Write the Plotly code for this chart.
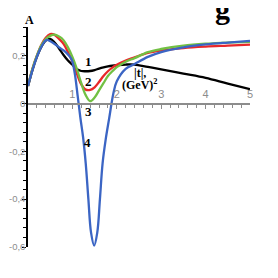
import plotly.graph_objects as go

# ---- data ----
x_common = [0, 0.1, 0.2, 0.3, 0.4, 0.5, 0.6, 0.7, 0.8, 0.9, 1.0, 1.1, 1.2, 1.3, 1.4,
            1.5, 1.6, 1.7, 1.8, 1.9, 2.0, 2.2, 2.4, 2.7, 3.0, 3.5, 4.0, 4.5, 5.0]

y1_black = [0.073, 0.14, 0.195, 0.237, 0.263, 0.27, 0.255, 0.23, 0.203, 0.18, 0.162,
            0.143, 0.136, 0.135, 0.136, 0.14, 0.146, 0.151, 0.155, 0.158, 0.16, 0.163,
            0.163, 0.153, 0.143, 0.125, 0.107, 0.083, 0.06]

y2_red = [0.073, 0.145, 0.2, 0.245, 0.275, 0.29, 0.287, 0.27, 0.25, 0.215, 0.175,
          0.125, 0.08, 0.058, 0.057, 0.068, 0.09, 0.115, 0.135, 0.15, 0.162, 0.18,
          0.193, 0.212, 0.222, 0.232, 0.238, 0.242, 0.246]

y3_green = [0.073, 0.145, 0.2, 0.243, 0.27, 0.283, 0.288, 0.28, 0.265, 0.235, 0.195,
            0.145, 0.085, 0.035, 0.01, 0.025, 0.055, 0.085, 0.115, 0.135, 0.152, 0.175,
            0.19, 0.215, 0.228, 0.242, 0.25, 0.255, 0.258]

x4_blue = [0, 0.1, 0.2, 0.3, 0.42, 0.55, 0.7, 0.85, 0.98, 1.05, 1.12, 1.18, 1.24, 1.3,
           1.36, 1.42, 1.49, 1.56, 1.62, 1.68, 1.75, 1.83, 1.92, 2.0, 2.2, 2.4, 2.7,
           3.0, 3.5, 4.0, 4.5, 5.0]
y4_blue = [0.073, 0.14, 0.195, 0.237, 0.266, 0.255, 0.235, 0.215, 0.185, 0.13, 0.03,
           -0.06, -0.14, -0.25, -0.4, -0.54, -0.594, -0.54, -0.4, -0.25, -0.15, -0.06,
           0.04, 0.093, 0.145, 0.165, 0.195, 0.215, 0.235, 0.247, 0.255, 0.262]

x_tick_vals = [1, 2, 3, 4, 5]
x_tick_text = ["1", "2", "3", "4", "5"]
y_tick_vals = [-0.6, -0.4, -0.2, 0, 0.2]
y_tick_text = ["-0,6", "-0,4", "-0,2", "0", "0,2"]

curve_labels = ["1", "2", "3", "4"]
label_x = [1.36, 1.36, 1.36, 1.33]
label_y = [0.175, 0.091, -0.034, -0.161]

Y_MIN, Y_MAX = -0.6, 0.32

fig = go.Figure()
series = [
    (x_common, y1_black, "#000000"),
    (x_common, y2_red, "#e8282a"),
    (x_common, y3_green, "#72c043"),
    (x4_blue, y4_blue, "#3b65c4"),
]
for xs, ys, col in series:
    fig.add_trace(go.Scatter(x=xs, y=ys, mode="lines",
                             line=dict(color=col, width=2.3, shape="spline", smoothing=1.0),
                             showlegend=False, hoverinfo="skip", cliponaxis=False))

serif = "Liberation Serif, Times New Roman, serif"
sans = "Liberation Sans, Arial, sans-serif"

# the page body keeps its default 8px margin, so the figure is 270x270
fig.update_layout(
    width=270, height=270,
    margin=dict(l=20, r=28, t=19, b=31),
    paper_bgcolor="white", plot_bgcolor="white",
    xaxis=dict(range=[0, 5], anchor="free", position=(0 - Y_MIN) / (Y_MAX - Y_MIN),
               side="top", showline=True, linecolor="#8c8c8c", linewidth=2,
               ticks="inside", ticklen=4, tickcolor="#8c8c8c", tickwidth=1,
               tickvals=x_tick_vals, ticktext=x_tick_text,
               minor=dict(tick0=0, dtick=0.2, ticks="inside", ticklen=3,
                          tickcolor="#8c8c8c"),
               tickfont=dict(family=sans, size=11, color="#8c8c8c"),
               showgrid=False, zeroline=False, automargin=False),
    yaxis=dict(range=[Y_MIN, Y_MAX], showline=True, linecolor="black", linewidth=1.5,
               ticks="outside", ticklen=4, tickcolor="black", tickwidth=1,
               tickvals=y_tick_vals, ticktext=y_tick_text, ticklabelstandoff=-5,
               minor=dict(tick0=0, dtick=0.04, ticks="outside", ticklen=3,
                          tickcolor="black"),
               tickfont=dict(family=sans, size=9.5, color="#8c8c8c"),
               showgrid=False, zeroline=False, automargin=False),
)

annots = [
    dict(text="<b>A</b>", xref="paper", yref="paper", x=0.005, y=1.03,
         xanchor="center", yanchor="middle",
         font=dict(family=serif, size=12, color="black")),
    dict(text="<b>g</b>", xref="paper", yref="paper", x=0.874, y=1.0,
         xanchor="center", yanchor="bottom",
         font=dict(family=serif, size=30, color="black")),
    dict(text="<b>|t|,</b>", xref="x", yref="y", x=2.52, y=0.127,
         xanchor="center", yanchor="middle",
         font=dict(family=serif, size=12, color="black")),
    dict(text="<b>(GeV)<sup>2</sup></b>", xref="x", yref="y", x=2.52, y=0.079,
         xanchor="center", yanchor="middle",
         font=dict(family=serif, size=12, color="black")),
]
for t, lx, ly in zip(curve_labels, label_x, label_y):
    annots.append(dict(text="<b>" + t + "</b>", xref="x", yref="y", x=lx, y=ly,
                       xanchor="center", yanchor="middle",
                       font=dict(family=serif, size=13, color="black")))
for a in annots:
    a.update(showarrow=False)
fig.update_layout(annotations=annots)

fig.write_html("out.html")
